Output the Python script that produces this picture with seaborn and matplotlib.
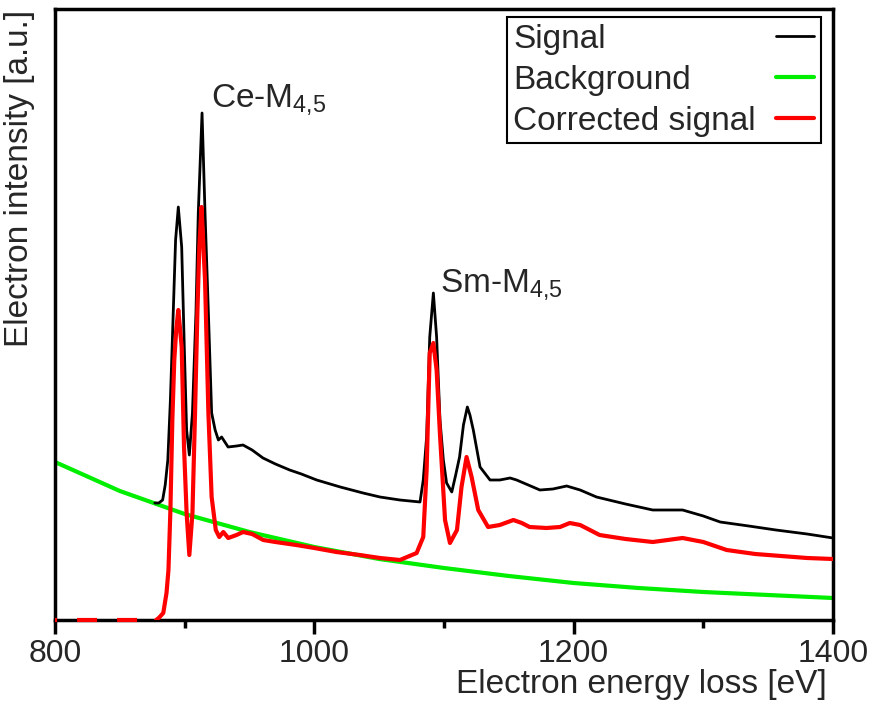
import matplotlib
matplotlib.use("Agg")
import matplotlib.pyplot as plt
import seaborn as sns

# ---- data ----
sig_E = [877, 880, 883, 885, 887, 889, 891, 893, 895.1, 897.7,
         899.7, 901.5, 903.6, 906, 908.7, 910.5, 913.4, 915.7, 918.3, 920.8,
         923.5, 926, 928.5, 931, 933.5, 940, 945, 952, 960.4, 970,
         981, 990, 1001.8, 1020, 1037.6, 1050.6, 1066, 1081.5, 1084, 1086.6,
         1089, 1091.8, 1094.3, 1096.9, 1099.5, 1102, 1106, 1109, 1112, 1115,
         1118, 1120, 1122.6, 1127.8, 1135.5, 1143, 1151, 1156, 1165, 1174,
         1184, 1194.6, 1205, 1217.6, 1240, 1261, 1284, 1300, 1313, 1335,
         1356, 1380, 1400]
sig_I = [117, 117, 120, 135, 160, 220, 300, 380, 413, 373,
         273, 190, 165, 207, 307, 407, 507, 407, 307, 207,
         190, 180, 183, 178, 173, 174, 175, 170, 162, 156,
         150, 146, 140, 133, 127, 123, 120, 118, 140, 183,
         283, 327, 283, 200, 160, 137, 128, 145, 163, 195,
         213, 205, 190, 153, 140, 140, 142, 140, 135, 130,
         131, 134, 130, 123, 116, 110, 110, 104, 98, 94,
         90, 86, 82]

bg_E = [800, 850, 900, 950, 1000, 1050, 1100, 1150, 1200, 1250, 1300, 1350, 1400]
bg_I = [158, 129, 106, 88, 73, 61, 52, 44, 37, 32, 28, 25, 22]

# zero part (first two points) drawn dashed
cor_E = [800, 878, 880, 883.5, 886, 887.5, 889, 890.5, 892, 893.5,
         895.1, 897.7, 899.5, 901.5, 903.6, 906, 908, 909.8, 911.3, 913,
         915.7, 918.3, 920.8, 924, 926.7, 929.8, 933.6, 940, 945, 952,
         960.6, 970, 986, 1000, 1017, 1035, 1050.6, 1066, 1078.9, 1084,
         1086.6, 1089, 1091.8, 1094.3, 1097, 1100.8, 1104.6, 1110, 1113.5, 1117.4,
         1121.3, 1126.4, 1134, 1143, 1153.5, 1160, 1166, 1179, 1189.5, 1197,
         1205, 1220, 1240, 1261, 1284, 1300, 1318, 1340, 1360, 1380,
         1400]
cor_I = [0, 0, 2, 7, 27, 50, 110, 200, 260, 290,
         310, 273, 173, 107, 65, 107, 207, 307, 373, 413,
         340, 207, 123, 90, 83, 88, 82, 85, 88, 86,
         80, 78, 75, 72, 68, 65, 62, 60, 67, 83,
         150, 267, 277, 250, 183, 100, 77, 90, 133, 163,
         143, 110, 93, 95, 100, 97, 93, 92, 93, 97,
         95, 85, 81, 78, 82, 78, 70, 66, 64, 62,
         61]

x_ticks = [800, 1000, 1200, 1400]
x_minor = [900, 1100, 1300]

# ---- style ----
sns.set_style("white")
plt.rcParams["font.family"] = ["Liberation Sans", "DejaVu Sans"]
plt.rcParams["mathtext.fontset"] = "custom"
plt.rcParams["mathtext.rm"] = "Liberation Sans"
plt.rcParams["mathtext.it"] = "Liberation Sans"

FS = 24
DPI = 100
fig = plt.figure(figsize=(8.69, 7.01), dpi=DPI)
ax = fig.add_axes([55 / 869, 81 / 701, 778 / 869, 611 / 701])

sns.lineplot(x=bg_E, y=bg_I, ax=ax, color="#00ee00", lw=3, label="Background", zorder=2)
sns.lineplot(x=sig_E, y=sig_I, ax=ax, color="black", lw=2, label="Signal", zorder=3)
sns.lineplot(x=cor_E[1:], y=cor_I[1:], ax=ax, color="#ff0000", lw=3,
             label="Corrected signal", zorder=4)
ax.plot(cor_E[:2], cor_I[:2], color="#ff0000", lw=3, ls=(4.3, (4.8, 4.8)),
        zorder=6, clip_on=False)

ax.set_xlim(800, 1400)
ax.set_ylim(0, 611)
ax.set_xticks(x_ticks)
ax.set_xticks(x_minor, minor=True)
ax.set_yticks([])
ax.tick_params(axis="x", which="major", direction="out", length=10, width=2.5,
               labelsize=23, pad=4, bottom=True, color="black")
ax.tick_params(axis="x", which="minor", direction="out", length=6, width=2.5,
               bottom=True, color="black")
for s in ax.spines.values():
    s.set_linewidth(2.5)
    s.set_color("black")

ax.set_xlabel("Electron energy loss [eV]", fontsize=FS, ha="right", va="center")
ax.xaxis.set_label_coords(0.992, -0.106)
ax.set_ylabel("Electron intensity [a.u.]", fontsize=FS, ha="right", va="center")
ax.yaxis.set_label_coords(-0.045, 0.998)

ax.text(920.3, 520, "Ce-M$_{4{,}5}$", fontsize=FS, ha="left", va="center")
ax.text(1096.9, 335, "Sm-M$_{4{,}5}$", fontsize=FS, ha="left", va="center")

# legend order: Signal, Background, Corrected signal
h, l = ax.get_legend_handles_labels()
order = [l.index("Signal"), l.index("Background"), l.index("Corrected signal")]
HTP = 0.6
leg = ax.legend([h[i] for i in order], [l[i] for i in order],
                loc="upper right", bbox_to_anchor=(0.9846, 0.987), borderaxespad=0,
                fontsize=FS, markerfirst=False, frameon=True, fancybox=False,
                edgecolor="black", framealpha=1, handlelength=1.15,
                labelspacing=0.3, borderpad=0.2, handletextpad=HTP)
leg.get_frame().set_linewidth(1.5)

# left-align the label texts while keeping the line samples at the right
fig.canvas.draw()
renderer = fig.canvas.get_renderer()
texts = leg.get_texts()
widths = [t.get_window_extent(renderer).width for t in texts]
maxw = max(widths)
for col in leg._legend_handle_box.get_children():
    for item in col.get_children():
        txtbox = item.get_children()[0]
        w = txtbox._text.get_window_extent(renderer).width
        item.sep = HTP * FS + (maxw - w) * 72.0 / DPI

fig.savefig("out.png", dpi=DPI)
